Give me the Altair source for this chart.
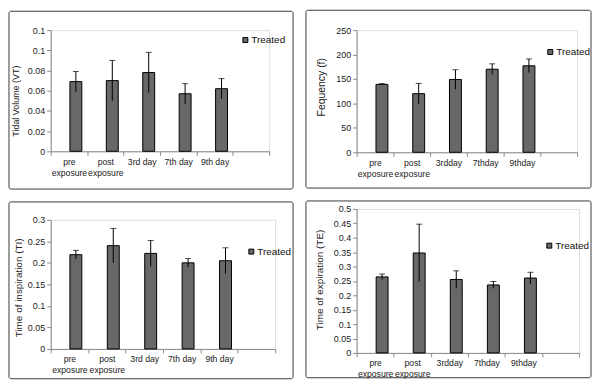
import altair as alt
import pandas as pd

# ---- data ----
cats_a = ["pre\nexposure", "post\nexposure", "3rd day", "7th day", "9th day"]
cats_b = ["pre\nexposure", "post\nexposure", "3rdday", "7thday", "9thday"]
series_name = "Treated"

vt_mean = [0.069, 0.070, 0.078, 0.057, 0.062]
vt_err = [0.010, 0.020, 0.020, 0.010, 0.010]
vt_ticks = [0, 0.02, 0.04, 0.06, 0.08, 0.1, 0.12]

f_mean = [139, 120, 149, 170, 177]
f_err = [1.5, 21, 20, 11, 14]
f_ticks = [0, 50, 100, 150, 200, 250]

ti_mean = [0.219, 0.240, 0.222, 0.200, 0.205]
ti_err = [0.010, 0.040, 0.030, 0.010, 0.030]
ti_ticks = [0, 0.05, 0.1, 0.15, 0.2, 0.25, 0.3]

te_mean = [0.264, 0.347, 0.255, 0.236, 0.260]
te_err = [0.010, 0.100, 0.030, 0.012, 0.020]
te_ticks = [0, 0.05, 0.1, 0.15, 0.2, 0.25, 0.3, 0.35, 0.4, 0.45, 0.5]

FONT = "Liberation Sans"
HATCH = "#686868"
BORDER = "#3a3a3a"
AXIS = "#8a8a8a"


def make_df(cats, mean, err):
    return pd.DataFrame({
        "cat": cats,
        "mean": mean,
        "lo": [m - e for m, e in zip(mean, err)],
        "hi": [m + e for m, e in zip(mean, err)],
        "series": [series_name] * len(cats),
    })


def panel(cats, mean, err, ticks, title, w, h, left, right, top, bottom,
          tx, ty, tsize, lx, ly, xoff=7):
    df = make_df(cats, mean, err)
    domain = cats + [" "]
    xenc = alt.X(
        "cat:N",
        sort=None,
        title=None,
        scale=alt.Scale(domain=domain, paddingInner=0, paddingOuter=0),
        axis=alt.Axis(
            tickBand="extent", labelAngle=0, tickSize=4, labelPadding=2,
            labelFont=FONT, labelFontSize=8.7, labelColor="#222",
            labelLineHeight=11, labelBaseline="top",
            labelExpr="split(datum.label, '\\n')",
            domainColor=AXIS, tickColor=AXIS,
        ),
    )
    yaxis = alt.Axis(
        values=ticks, format="~r", grid=False, tickSize=4, labelPadding=2,
        labelFont=FONT, labelFontSize=9, labelColor="#222",
        domainColor=AXIS, tickColor=AXIS,
        title=title, titleFont=FONT, titleFontSize=tsize, titleFontWeight="normal",
        titleColor="#222", titleX=tx, titleY=ty, titleAngle=270,
        titleAlign="center", titleBaseline="middle",
    )
    yscale = alt.Scale(domain=[0, ticks[-1]], nice=False, zero=True)

    base = alt.Chart(df).encode(x=xenc)
    bars = base.mark_bar(size=12, xOffset=xoff, stroke="black", strokeWidth=1).encode(
        y=alt.Y("mean:Q", scale=yscale, axis=yaxis),
        fill=alt.Fill(
            "series:N",
            scale=alt.Scale(range=[HATCH]),
            legend=alt.Legend(
                title=None, orient="none", legendX=lx, legendY=ly,
                symbolType="square", symbolSize=25, symbolStrokeColor="black",
                symbolStrokeWidth=1, symbolFillColor=HATCH,
                labelFont=FONT, labelFontSize=10, labelColor="#111",
                labelOffset=1, padding=0,
            ),
        ),
    )
    rules = base.mark_rule(xOffset=xoff, color="black", strokeWidth=1).encode(
        y=alt.Y("lo:Q", scale=yscale, axis=yaxis), y2="hi:Q"
    )
    caps = base.mark_tick(xOffset=xoff, size=6, thickness=1, color="black").encode(
        y=alt.Y("hi:Q", scale=yscale, axis=yaxis)
    )
    box = alt.Chart(pd.DataFrame({"k": [0]})).mark_rect(
        fillOpacity=0, stroke=BORDER, strokeWidth=1, cornerRadius=2
    ).encode(
        x=alt.value(-left), x2=alt.value(w + right),
        y=alt.value(-top), y2=alt.value(h + bottom),
    )
    return alt.layer(box, bars, rules, caps).properties(width=w, height=h)


p1 = panel(cats_a, vt_mean, vt_err, vt_ticks, "Tidal Volume (VT)",
           220, 122, 42, 24, 19, 38, -35, 71, 9, 191, 5)
p2 = panel(cats_b, f_mean, f_err, f_ticks, "Fequency (f)",
           222, 123, 51, 14, 20, 36, -35, 57, 10.5, 190, 17, xoff=7)
p3 = panel(cats_a, ti_mean, ti_err, ti_ticks, "Time of inspiration (TI)",
           226, 130, 42, 18, 18, 30, -32, 68, 10, 197, 27, xoff=6.5)
p4 = panel(cats_b, te_mean, te_err, te_ticks, "Time of expiration (TE)",
           224, 145, 51, 12, 8, 25, -37, 71, 10, 189, 32, xoff=7)

col1 = alt.vconcat(p1, p3, spacing=11).resolve_scale(fill="independent")
col2 = alt.vconcat(p2, p4, spacing=11).resolve_scale(fill="independent")

chart = alt.hconcat(col1, col2, spacing=11).resolve_scale(
    fill="independent"
).properties(padding=0).configure_view(
    strokeWidth=0
).configure(background="white")

chart.save("out.html", embed_options={"renderer": "svg", "actions": False})
